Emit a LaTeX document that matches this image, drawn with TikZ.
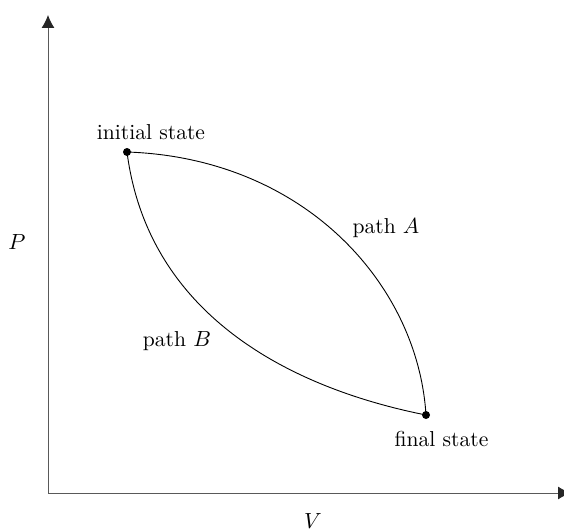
\documentclass[tikz,border=0pt]{standalone}
\usetikzlibrary{arrows.meta}
\begin{document}
\begin{tikzpicture}[x=0.5pt,y=-0.5pt,
  axis/.style={draw=black!65,line width=0.5pt,-{Latex[length=6.5pt,width=6.5pt,color=black!85]}},
  curve/.style={draw=black,line width=0.45pt},
  dot/.style={circle,fill=black,inner sep=0pt,minimum size=4pt},
  lbl/.style={inner sep=0pt,font=\fontsize{10.8}{13}\selectfont}]
\useasboundingbox (0,0) rectangle (564,530);
\clip (0,0) rectangle (564,530);
\coordinate (O) at (48,493);
\coordinate (Ytop) at (48,15);
\coordinate (Xend) at (571,493);
\draw[axis] (O) -- (Ytop);
\draw[axis] (O) -- (Xend);
\node[dot] (i) at (127,152) {};
\node[dot] (f) at (426,415) {};
\draw[curve] (i.center) .. controls (305,158) and (418,285) .. (f.center);
\draw[curve] (i.center) .. controls (148,315) and (290,388) .. (f.center);
\node[lbl] (il) at (151,132) {initial state};
\node[lbl] (fl) at (441.5,439) {final state};
\node[lbl] (pa) at (386,228) {path $A$};
\node[lbl] (pb) at (177,341) {path $B$};
\node[lbl] (P) at (17,242) {$P$};
\node[lbl] (V) at (313,521) {$V$};
\end{tikzpicture}
\end{document}
